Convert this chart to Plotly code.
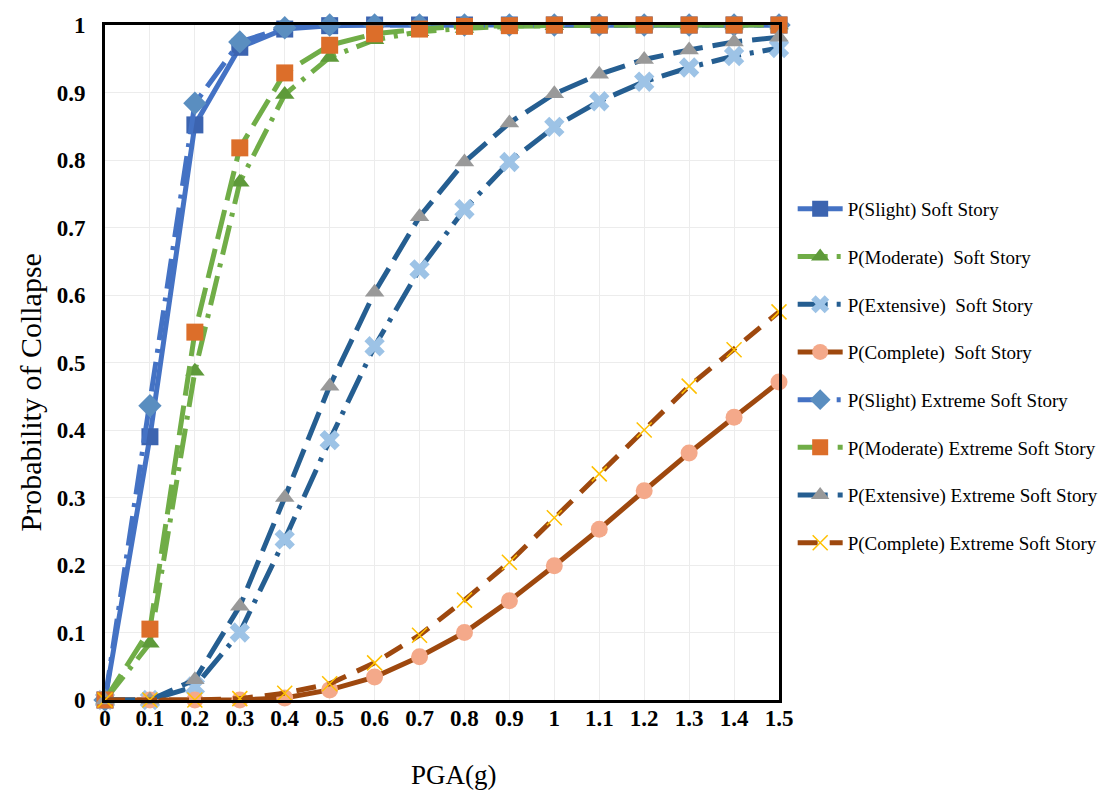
import plotly.graph_objects as go

# PGA levels (g)
pga = [0, 0.1, 0.2, 0.3, 0.4, 0.5, 0.6, 0.7, 0.8, 0.9, 1.0, 1.1, 1.2, 1.3, 1.4, 1.5]

# Fragility curves – soft story
slight_ss = [0, 0.39, 0.852, 0.967, 0.994, 0.999, 1, 1, 1, 1, 1, 1, 1, 1, 1, 1]
moderate_ss = [0, 0.084, 0.487, 0.767, 0.897, 0.952, 0.978, 0.99, 0.995, 0.998, 0.999, 1, 1, 1, 1, 1]
extensive_ss = [0, 0.0, 0.02, 0.10, 0.238, 0.385, 0.524, 0.638, 0.727, 0.797, 0.849, 0.887, 0.916, 0.937, 0.954, 0.966]
complete_ss = [0, 0, 0, 0, 0.003, 0.015, 0.034, 0.064, 0.10, 0.147, 0.199, 0.253, 0.31, 0.366, 0.419, 0.471]

# Fragility curves – extreme soft story
slight_ess = [0, 0.436, 0.884, 0.975, 0.996, 1, 1, 1, 1, 1, 1, 1, 1, 1, 1, 1]
moderate_ess = [0, 0.105, 0.545, 0.818, 0.929, 0.97, 0.987, 0.994, 0.998, 0.999, 1, 1, 1, 1, 1, 1]
extensive_ess = [0, 0.0, 0.03, 0.139, 0.30, 0.465, 0.604, 0.716, 0.797, 0.855, 0.898, 0.927, 0.949, 0.963, 0.975, 0.982]
complete_ess = [0, 0, 0, 0.002, 0.01, 0.024, 0.055, 0.096, 0.148, 0.204, 0.27, 0.335, 0.40, 0.465, 0.519, 0.575]

names = [
    "P(Slight) Soft Story",
    "P(Moderate)  Soft Story",
    "P(Extensive)  Soft Story",
    "P(Complete)  Soft Story",
    "P(Slight) Extreme Soft Story",
    "P(Moderate) Extreme Soft Story",
    "P(Extensive) Extreme Soft Story",
    "P(Complete) Extreme Soft Story",
]

x_ticks = [0, 0.1, 0.2, 0.3, 0.4, 0.5, 0.6, 0.7, 0.8, 0.9, 1, 1.1, 1.2, 1.3, 1.4, 1.5]
x_tick_text = ["0", "0.1", "0.2", "0.3", "0.4", "0.5", "0.6", "0.7", "0.8", "0.9", "1",
               "1.1", "1.2", "1.3", "1.4", "1.5"]
y_ticks = [0, 0.1, 0.2, 0.3, 0.4, 0.5, 0.6, 0.7, 0.8, 0.9, 1]
y_tick_text = ["0", "0.1", "0.2", "0.3", "0.4", "0.5", "0.6", "0.7", "0.8", "0.9", "1"]

x_title = "PGA(g)"
y_title = "Probability of Collapse"

DASHDOT = "30px,9px,4px,9px"
LONGDASH = "30px,10px"
DASH = "20px,12px"

styles = [
    # (values, line color, dash, marker symbol, marker color, marker size)
    (slight_ss, "#4472c4", "solid", "square", "#3c64b0", 17),
    (moderate_ss, "#70ad47", DASHDOT, "triangle-up", "#5e9a3a", 17),
    (extensive_ss, "#255e91", DASHDOT, "x", "#9dc3e6", 18),
    (complete_ss, "#9e480e", "solid", "circle", "#f4a98a", 17),
    (slight_ess, "#4472c4", DASHDOT, "diamond", "#5a8ec0", 18),
    (moderate_ess, "#70ad47", LONGDASH, "square", "#dc6e2a", 17),
    (extensive_ess, "#255e91", LONGDASH, "triangle-up", "#999999", 17),
    (complete_ess, "#9e480e", DASH, "x-thin", "#ffc000", 15),
]

fig = go.Figure()
for i, (vals, lc, dash, sym, mc, ms) in enumerate(styles):
    marker = dict(symbol=sym, color=mc, size=ms)
    if sym == "x-thin":
        marker["line"] = dict(color=mc, width=1.5)
    fig.add_trace(go.Scatter(
        x=pga, y=vals, name=names[i], mode="lines+markers",
        line=dict(color=lc, width=5, dash=dash),
        marker=marker, cliponaxis=False,
        legendgroup=f"g{i}",
    ))

fig.update_layout(
    width=1104, height=800,
    margin=dict(l=105, r=325, t=25, b=100, autoexpand=False),
    plot_bgcolor="white", paper_bgcolor="white",
    font=dict(family="Liberation Serif", color="black"),
    showlegend=True,
    legend=dict(
        xref="container", yref="container",
        x=0.718, y=0.7625, xanchor="left", yanchor="top",
        font=dict(family="Liberation Serif", size=19, color="black"),
        traceorder="grouped", tracegroupgap=20, itemwidth=45,
        bgcolor="rgba(0,0,0,0)",
    ),
    annotations=[
        dict(text=x_title, xref="paper", yref="paper", x=0.518, y=-0.111,
             showarrow=False, xanchor="center", yanchor="middle",
             font=dict(family="Liberation Serif", size=27, color="black")),
        dict(text=y_title, xref="paper", yref="paper", x=-0.111, y=0.456,
             showarrow=False, xanchor="center", yanchor="middle", textangle=-90,
             font=dict(family="Liberation Serif", size=30, color="black")),
    ],
)
fig.update_xaxes(
    range=[0, 1.5], tickvals=x_ticks, ticktext=x_tick_text,
    tickfont=dict(family="Liberation Serif", size=23, weight="bold"),
    showgrid=True, gridcolor="#ececec", gridwidth=1,
    showline=True, linecolor="black", linewidth=3, mirror=True,
    zeroline=False, ticks="", ticklabelstandoff=-5,
)
fig.update_yaxes(
    range=[0, 1], tickvals=y_ticks, ticktext=y_tick_text,
    tickfont=dict(family="Liberation Serif", size=23, weight="bold"),
    showgrid=True, gridcolor="#ececec", gridwidth=1,
    showline=True, linecolor="black", linewidth=3, mirror=True,
    zeroline=False, ticks="", ticklabelstandoff=12,
)

fig.write_html("out.html")
